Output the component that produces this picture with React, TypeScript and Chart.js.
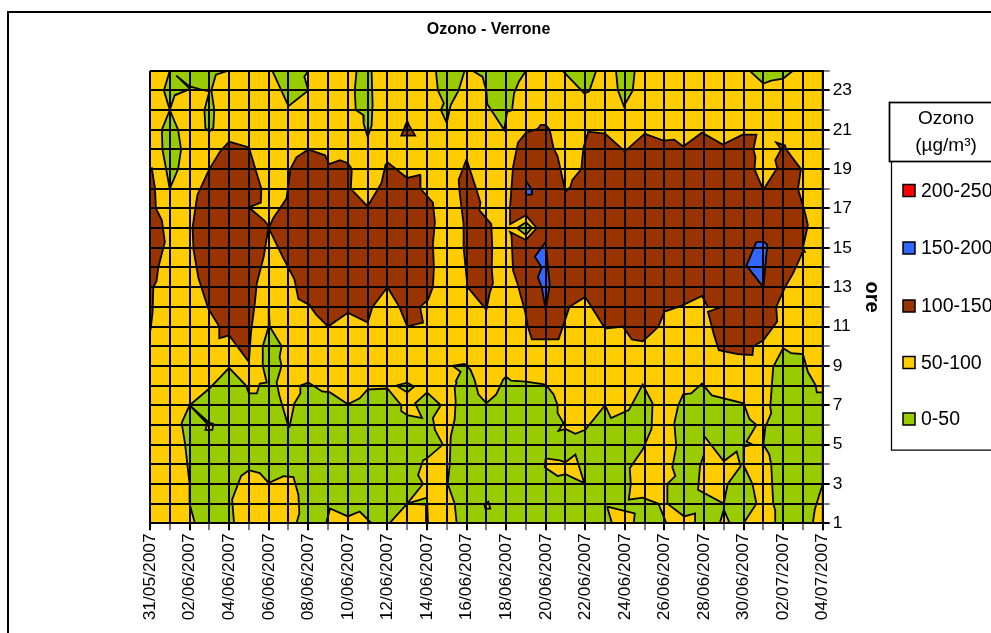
import React, { useEffect, useRef } from "react";
import { Chart, registerables } from "chart.js";
Chart.register(...registerables);

type Pt = [number, number];

const dayLabels = ["31/05/2007","01/06/2007","02/06/2007","03/06/2007","04/06/2007","05/06/2007","06/06/2007","07/06/2007","08/06/2007","09/06/2007","10/06/2007","11/06/2007","12/06/2007","13/06/2007","14/06/2007","15/06/2007","16/06/2007","17/06/2007","18/06/2007","19/06/2007","20/06/2007","21/06/2007","22/06/2007","23/06/2007","24/06/2007","25/06/2007","26/06/2007","27/06/2007","28/06/2007","29/06/2007","30/06/2007","01/07/2007","02/07/2007","03/07/2007","04/07/2007"];
const legendLabels = ["200-250", "150-200", "100-150", "50-100", "0-50"];

const RED = "#FF0000", BLUE = "#3366FF", BROWN = "#993300", YELLOW = "#FFCC00", GREEN = "#99CC00";
const legendColors = [RED, BLUE, BROWN, YELLOW, GREEN];

// Contour regions, each vertex is [day index since 31/05, hour]
const band50100Base: Pt[] = [[0,1],[34,1],[34,24],[0,24]];

const green1: Pt[] = [[1,24],[0.7,23],[1,22],[0.6,21],[0.63,20],[1,18],[1.42,19],[1.57,20],[1.42,21],[1,22],[1.25,22.75],[1.85,23],[2,23.1],[1.33,23.75],[2,23.2],[2.55,23.05],[3,22.95],[2.75,22],[2.8,21.1],[3,20.9],[3.2,21.1],[3.25,22],[3.1,23],[3.33,23.8],[3.95,24]];
const green2: Pt[] = [[6.18,24],[7,22.2],[8,23],[7.8,23.7],[8,24]];
const green3: Pt[] = [[10.44,24],[10.35,23],[10.4,22],[10.78,21.75],[10.8,21.3],[11,20.65],[11.2,21.2],[11.25,22.3],[11.2,24]];
const green4: Pt[] = [[14.45,24],[14.55,23],[14.85,22.35],[14.7,22],[15,21.35],[15.2,22.25],[15.6,23],[15.9,24]];
const green5: Pt[] = [[16.3,24],[16.8,23.7],[17,23],[17.05,22.3],[17.9,21],[18.05,21.9],[18.3,22],[18.4,22.85],[18.65,23.45],[19,24]];
const green6: Pt[] = [[20.85,24],[21.95,22.85],[22.2,22.95],[22.55,24]];
const green7: Pt[] = [[23.55,24],[23.65,23],[23.95,22.2],[24.4,23],[24.5,24]];
const green8: Pt[] = [[30.3,24],[31,23.35],[31.4,23.5],[32,23.6],[32.5,24]];
const green9: Pt[] = [[2.27,1],[2,2],[2,3],[1.77,5.05],[1.6,6.1],[2,7],[3,7.85],[4,8.9],[4.85,8],[5,7.6],[5.4,7.6],[5.55,8.1],[5.9,8.15],[5.7,9],[5.7,10],[6,11],[6,12],[6.05,11],[6.65,10],[6.55,9.45],[6.65,9],[6.4,8.15],[6.55,7.45],[7,5.9],[7.05,5.9],[7.3,7.1],[7.6,7.6],[7.6,8],[8,8.15],[8.7,7.7],[9.1,7.65],[10,7.05],[10.6,7.35],[11,7.8],[12,7.85],[12.7,7],[12.7,6.7],[13,6.5],[13.75,6.35],[13.4,7.1],[14,7.65],[14.7,7],[14.3,6.35],[14.4,5.75],[14.8,5],[14,4.3],[13.8,4.2],[13.55,3.45],[13.8,3],[13,2],[12.1,1]];
const green10: Pt[] = [[12.45,8],[13,8.15],[13.35,7.95],[13,7.65]];
const green11: Pt[] = [[13,2],[14,2.3],[14.05,1],[13.95,1],[13.95,1.95]];
const green12: Pt[] = [[15.5,1],[15.4,2],[15.05,3],[15.15,4],[15.2,5.4],[15.4,6.3],[15.45,7.2],[15.4,7.9],[15.5,8.15],[15.45,8.2],[15.7,8.7],[15.3,9],[15.9,9.1],[16,9],[16.2,8.8],[16.4,8.3],[16.6,7.55],[17,7.1],[17.5,7.55],[17.85,8.3],[18,8.45],[18.25,8.25],[19,8.2],[20,8.05],[20.4,7.55],[20.6,7],[20.6,6.6],[20.9,6.1],[20.65,5.7],[21,5.8],[21.5,5.55],[22,5.75],[23,7],[23.3,6.35],[24.2,6.75],[24.9,8.05],[25.4,7.1],[25.35,5.8],[24.9,4.75],[24.25,3.8],[24.3,3],[24.2,2.2],[24.9,2.3],[25.7,2],[26.1,1]];
const green13: Pt[] = [[27.55,1],[27.55,1.5],[27,1.35],[26.15,2],[26.15,3],[26.55,3.4],[26.4,3.85],[26.6,4.9],[26.5,6.1],[26.7,7],[26.95,7.55],[27.35,7.6],[27.9,8.1],[28.4,7.5],[30,7.1],[30.3,6.3],[30.65,6],[30.15,5.15],[30.45,5],[30,4.9],[30,3.95],[30.45,3],[30.65,2],[30,1]];
const green14: Pt[] = [[32,9.9],[32.4,9.65],[33,9.6],[33.25,8.7],[33.65,8],[33.7,7.65],[34,7.65],[34,3],[33.6,1.7],[33.5,1],[31.6,1],[31.6,1.65],[31.5,2],[31.4,3.95],[31.3,4.5],[31,5],[31.1,5.9],[31.4,6.6],[31.35,6.9],[31.5,8.95]];
const greenPocket: Pt[] = [[19,16.3],[19.3,16],[19,15.65],[18.55,16]];

const yellow1: Pt[] = [[4.25,1],[4.15,2.2],[4.6,3.4],[5,3.7],[5.55,3.55],[6,3.05],[6.75,3.4],[7.25,3.35],[7.5,2.45],[7.55,1.5],[7.4,1]];
const yellow2: Pt[] = [[8.9,1],[9.1,1.75],[10,1.35],[10.6,1.6],[11.2,1]];
const yellow3: Pt[] = [[2,7],[3,6.1],[3.2,6.05],[3.15,5.75],[2.8,5.75],[2.9,6.05]];
const yellow4: Pt[] = [[20,4.3],[20.7,4.2],[21,4.1],[21.5,4.5],[21.95,3.05],[21,3.5],[20.6,3.4],[19.95,3.85]];
const yellow5: Pt[] = [[16.9,1.95],[17.1,2.1],[17.2,1.75],[16.95,1.75]];
const yellow6: Pt[] = [[23.1,1.85],[24.5,1.5],[24.45,1],[23.35,1]];
const yellow7: Pt[] = [[28,5.45],[29,4.15],[29.65,4.65],[29.85,3.9],[29.2,3],[29,2],[27.7,2.7],[27.8,3.9],[28,4.5]];
const yellow8: Pt[] = [[29,1.7],[28.8,1],[29.3,1]];

const brown1: Pt[] = [[0,19],[0.09,19.05],[0.25,18.05],[0.3,17],[0.6,16.4],[0.75,15.3],[0.42,14],[0.33,13.3],[0.17,13],[0.13,11.7],[0.03,10.85],[0,10.85]];
const brown2: Pt[] = [[4,20.4],[5,20.1],[5.63,18],[5.6,17.3],[5,17.05],[5.77,16.4],[6,16.1],[5.75,14.55],[5.4,13.2],[5.3,12.2],[5.1,10.65],[5,9.2],[4,10.55],[3.5,10.4],[3.5,11],[2.95,11.9],[2.45,13.45],[2.2,14.9],[2.15,16],[2.35,17.4],[2.4,17.7],[3,19],[3.55,19.9]];
const brown3: Pt[] = [[6,16],[6.23,16.5],[6.9,17.5],[7.1,19],[7.4,19.6],[8,20],[8.85,19.7],[9.05,19.25],[9.6,19.45],[10,19.3],[10.2,19],[10.15,18],[11,17.1],[11.7,18.3],[11.9,19.2],[12,19.35],[12.25,19.15],[13,18.55],[13.65,18.7],[13.67,18],[14.3,17.3],[14.4,16.3],[14.3,15.2],[14.35,14],[14.3,13],[14.05,12.35],[13.65,12],[13.8,11.2],[13,11],[12.6,12],[12,13],[11.25,12],[11,11.2],[10,11.7],[9,11],[8.4,11.6],[8.05,12.1],[7.5,12.4],[7.3,13.4],[6.7,14.55]];
const brown4: Pt[] = [[13,21.45],[13.1,21.2],[13.4,20.7],[12.7,20.7],[12.9,21.2]];
const brown5: Pt[] = [[16,19.5],[16.5,17.95],[16.7,17.3],[16.65,16.9],[17.25,16.2],[17.3,15],[17.27,14],[17.33,13.2],[17.17,12.7],[17,11.85],[16.05,13],[15.85,15],[15.85,16.2],[15.65,17.8],[15.6,18.45]];
const brown6: Pt[] = [[18.2,17.1],[18.2,16.2],[19,16.65],[19.55,16],[19,15.4],[18.2,15.8],[18.27,15.65],[18.35,13.85],[18.6,13.1],[18.7,12.7],[18.95,11.8],[19.1,11],[19.3,10.35],[20.65,10.35],[21,11.4],[21.2,12],[22,12.5],[23,10.9],[23.9,11],[24.35,10.35],[24.9,10.25],[25.4,10.7],[25.7,11],[26,11.75],[26.85,12.05],[27.9,12.55],[28.2,12],[28.9,12],[28.2,11.75],[28.5,10.6],[28.75,9.8],[29.7,9.6],[30.45,9.55],[30.5,10],[31,10.3],[31.7,11.25],[31.65,12],[32.1,13],[32.5,13.7],[33,14.8],[33.1,14.8],[33,15],[33.25,16.15],[33.15,16.6],[33,17.15],[32.75,18],[32.9,19],[32.15,20],[32.1,20.2],[31.65,20.35],[31.9,20],[31.6,19.45],[31.7,19.05],[31,17.95],[30.55,19],[30.6,19.6],[30.5,20],[30.65,20.75],[29.95,20.75],[28.95,20.25],[27.9,20.85],[26.95,20.15],[26.5,20.5],[25.95,20.45],[25,20.8],[24,19.9],[23,20.8],[22.15,20.9],[21.9,20.05],[21.8,19],[21.35,18.45],[21.25,18.1],[21,17.85],[20.6,19.65],[20.4,20.05],[20.2,21],[20,21.25],[19.75,21.25],[19.6,21.05],[19,20.85],[18.6,20.35],[18.35,19.1]];

const blue1: Pt[] = [[19,18.4],[19.3,17.95],[19.3,17.7],[19,17.7]];
const blue2: Pt[] = [[20,15.3],[20.1,14.2],[20.2,13.1],[20,11.85],[19.8,13],[19.6,13.5],[19.8,14],[19.45,14.55]];
const blue3: Pt[] = [[30.65,15.3],[31.05,15.3],[31.2,15.15],[31.1,14.05],[31,13],[30.15,14.1]];

const regions: { label: string; color: string; pts: Pt[] }[] = [
  { label: "50-100", color: YELLOW, pts: band50100Base },
  ...[green1, green2, green3, green4, green5, green6, green7, green8, green9, green10, green11, green12, green13, green14].map((pts) => ({ label: "0-50", color: GREEN, pts })),
  ...[yellow1, yellow2, yellow3, yellow4, yellow5, yellow6, yellow7, yellow8].map((pts) => ({ label: "50-100", color: YELLOW, pts })),
  ...[brown1, brown2, brown3, brown4, brown5, brown6].map((pts) => ({ label: "100-150", color: BROWN, pts })),
  { label: "0-50", color: GREEN, pts: greenPocket },
  ...[blue1, blue2, blue3].map((pts) => ({ label: "150-200", color: BLUE, pts })),
];

const FONT = '"Liberation Sans", Arial, sans-serif';

const polygonFill = {
  id: "polygonFill",
  beforeDatasetDraw(chart: any, args: any) {
    const { ctx, chartArea: a } = chart;
    const pts = args.meta.data;
    if (!pts.length) return;
    ctx.save();
    ctx.beginPath();
    ctx.rect(a.left, a.top, a.right - a.left, a.bottom - a.top);
    ctx.clip();
    ctx.beginPath();
    pts.forEach((p: any, i: number) => (i ? ctx.lineTo(p.x, p.y) : ctx.moveTo(p.x, p.y)));
    ctx.closePath();
    ctx.fillStyle = chart.data.datasets[args.index].backgroundColor;
    ctx.fill();
    ctx.restore();
  },
};

const frameAndLegend = {
  id: "frameAndLegend",
  beforeDraw(chart: any) {
    const { ctx } = chart;
    ctx.save();
    ctx.fillStyle = "#fff";
    ctx.fillRect(0, 0, 991, 633);
    ctx.strokeStyle = "#000";
    ctx.lineWidth = 2;
    ctx.strokeRect(8, 12, 1200, 900);
    ctx.restore();
  },
  afterDraw(chart: any) {
    const { ctx } = chart;
    ctx.save();
    ctx.fillStyle = "#000";
    ctx.textBaseline = "middle";
    ctx.textAlign = "center";
    ctx.font = `bold 16px ${FONT}`;
    ctx.fillText("Ozono - Verrone", 488.5, 29.5);
    // legend body
    ctx.strokeStyle = "#000";
    ctx.lineWidth = 1.25;
    ctx.beginPath();
    ctx.moveTo(891.5, 161);
    ctx.lineTo(891.5, 450);
    ctx.lineTo(1000, 450);
    ctx.stroke();
    // legend title
    ctx.lineWidth = 1.75;
    ctx.fillStyle = "#fff";
    ctx.fillRect(889.5, 102.5, 200, 59);
    ctx.strokeRect(889.5, 102.5, 200, 59);
    ctx.fillStyle = "#000";
    ctx.font = `19px ${FONT}`;
    ctx.fillText("Ozono", 946, 119);
    ctx.fillText("(µg/m³)", 946, 146);
    // legend rows
    const rowY = [190.5, 248, 306, 362.5, 419];
    ctx.textAlign = "left";
    legendLabels.forEach((t, i) => {
      ctx.fillStyle = legendColors[i];
      ctx.fillRect(903, rowY[i] - 6, 12, 12);
      ctx.lineWidth = 1.5;
      ctx.strokeRect(903, rowY[i] - 6, 12, 12);
      ctx.fillStyle = "#000";
      ctx.font = `19.5px ${FONT}`;
      ctx.fillText(t, 921, rowY[i] + 1);
    });
    ctx.restore();
  },
};

export default function App() {
  const ref = useRef<HTMLCanvasElement>(null);
  useEffect(() => {
    const n = regions.length;
    const chart = new Chart(ref.current!, {
      type: "scatter",
      data: {
        datasets: regions.map((r, i) => ({
          label: r.label,
          data: [...r.pts, r.pts[0]].map(([x, y]) => ({ x, y })),
          showLine: true,
          tension: 0,
          pointRadius: 0,
          borderColor: "#000",
          borderWidth: 1.8,
          backgroundColor: r.color,
          order: n - i,
        })),
      },
      plugins: [polygonFill, frameAndLegend],
      options: {
        animation: false,
        responsive: false,
        events: [],
        layout: { padding: { left: 150, top: 70.7, right: 107, bottom: 0 } },
        plugins: { legend: { display: false }, tooltip: { enabled: false } },
        scales: {
          x: {
            type: "linear",
            min: 0,
            max: 34,
            afterBuildTicks: (s: any) => { s.ticks = dayLabels.map((_, i) => ({ value: i })); },
            afterFit: (s: any) => { s.height = 109.7; },
            border: { color: "#000", width: 2, z: 1 },
            grid: {
              z: 1,
              color: "#000",
              lineWidth: 2,
              tickLength: 7,
              tickColor: (c: any) => (c.index % 2 ? "#808080" : "#000"),
            },
            ticks: {
              autoSkip: false,
              minRotation: 90,
              maxRotation: 90,
              padding: 3,
              color: "#000",
              font: { family: FONT, size: 17.4 },
              callback: (_v: any, i: number) => (i % 2 ? "" : dayLabels[i]),
            },
          },
          y: {
            type: "linear",
            position: "right",
            min: 1,
            max: 24,
            afterBuildTicks: (s: any) => { s.ticks = Array.from({ length: 24 }, (_, i) => ({ value: i + 1 })); },
            afterFit: (s: any) => { s.width = 61.3; },
            border: { color: "#000", width: 2, z: 1 },
            title: {
              display: true,
              text: "ore",
              color: "#000",
              padding: 0,
              font: { family: FONT, size: 20, weight: "bold" },
            },
            grid: {
              z: 1,
              color: "#000",
              lineWidth: 2,
              tickLength: 7,
              tickColor: (c: any) => (c.tick && c.tick.value % 2 ? "#000" : "#808080"),
            },
            ticks: {
              autoSkip: false,
              padding: 3,
              color: "#000",
              font: { family: FONT, size: 17.4 },
              callback: (v: any) => (v % 2 ? String(v) : ""),
            },
          },
        },
      },
    } as any);
    return () => chart.destroy();
  }, []);
  return (
    <div style={{ position: "fixed", left: 0, top: 0, width: 991, height: 633, overflow: "hidden" }}>
      <canvas ref={ref} width={991} height={633} style={{ display: "block" }} />
    </div>
  );
}
